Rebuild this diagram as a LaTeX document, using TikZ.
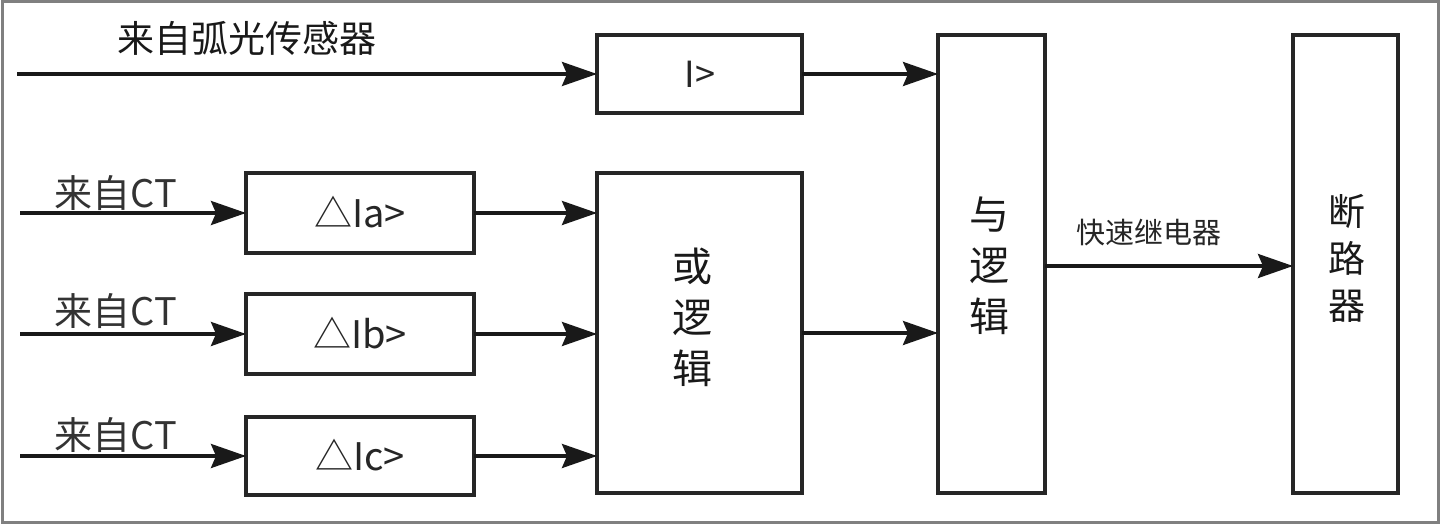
\documentclass[tikz,border=0pt]{standalone}
\usepackage{fontspec}
\setmainfont{Noto Sans CJK SC}
\usetikzlibrary{arrows.meta}
\begin{document}
\begin{tikzpicture}[x=1pt,y=-1pt,
  blk/.style={draw=black!85, line width=3.5pt, fill=white},
  conn/.style={line width=3.5pt, draw=black!90, -{Stealth[length=35pt,width=24pt,inset=5pt]}},
  lbl/.style={font=\fontsize{38}{40}\selectfont, text=black!85},
  ctlbl/.style={font=\fontsize{38}{40}\selectfont, text=black!80},
  vlbl/.style={font=\fontsize{40}{51}\selectfont, align=center, text=black!90}]
\useasboundingbox (0,0) rectangle (1440,524);
\draw[draw=black!50, line width=3pt] (2,2) rectangle (1438,522);
% boxes
\draw[blk] (597,35) rectangle (802,113); \node[font=\fontsize{36}{38}\selectfont, text=black!85] (gi) at (700,74) {I>};
\coordinate (giW) at (597,74); \coordinate (giE) at (802,74);
\draw[blk] (246,173) rectangle (474,253); \node[lbl] (ga) at (360,212) {△Ia>};
\draw[blk] (246,294) rectangle (474,374); \node[lbl] (gb) at (360,333) {△Ib>};
\draw[blk] (246,417) rectangle (474,495); \node[lbl] (gc) at (360,455) {△Ic>};
\draw[blk] (597,173) rectangle (802,493); \node[vlbl] (or) at (692,317) {或\\逻\\辑};
\draw[blk] (938,35) rectangle (1045,493); \node[vlbl] (and) at (989,266) {与\\逻\\辑};
\draw[blk] (1293,35) rectangle (1398,493); \node[vlbl, font=\fontsize{37}{47}\selectfont] (brk) at (1347,258) {断\\路\\器};
% coordinates
\coordinate (s0) at (17,74);
\coordinate (s1) at (20,213); \coordinate (s2) at (20,334); \coordinate (s3) at (20,456);
\coordinate (aW) at (246,213); \coordinate (bW) at (246,334); \coordinate (cW) at (246,456);
\coordinate (aE) at (474,213); \coordinate (bE) at (474,334); \coordinate (cE) at (474,456);
\coordinate (orA) at (597,213); \coordinate (orB) at (597,334); \coordinate (orC) at (597,456);
\coordinate (orE) at (802,333);
\coordinate (andA) at (938,74); \coordinate (andB) at (938,333);
\coordinate (andE) at (1045,266); \coordinate (brkW) at (1293,266);
% connectors
\draw[conn] (s0) -- (giW);
\draw[conn] (giE) -- (andA);
\draw[conn] (s1) -- (aW);
\draw[conn] (s2) -- (bW);
\draw[conn] (s3) -- (cW);
\draw[conn] (aE) -- (orA);
\draw[conn] (bE) -- (orB);
\draw[conn] (cE) -- (orC);
\draw[conn] (orE) -- (andB);
\draw[conn] (andE) -- (brkW);
% texts
\node[font=\fontsize{29}{31}\selectfont, text=black!85] (relay) at (1149,233) {快速继电器};
\node[font=\fontsize{37}{39}\selectfont, text=black!90] (src) at (247,38) {来自弧光传感器};
\node[ctlbl] (ct1) at (116,193) {来自CT};
\node[ctlbl] (ct2) at (116,311) {来自CT};
\node[ctlbl] (ct3) at (116,435) {来自CT};
\end{tikzpicture}
\end{document}
